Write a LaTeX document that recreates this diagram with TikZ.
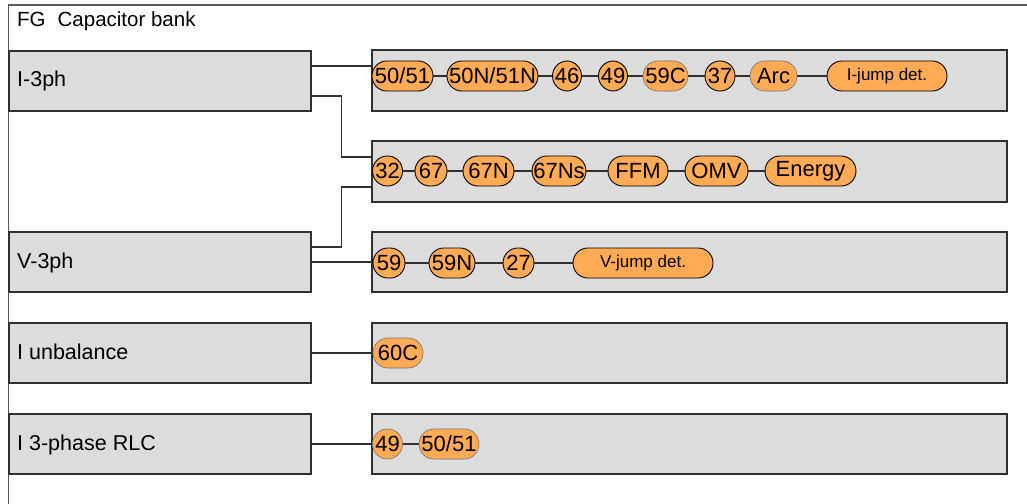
\documentclass[tikz,border=0pt]{standalone}
\usepackage{fontspec}
\setmainfont{Liberation Sans}
\definecolor{pillfill}{HTML}{FFAA55}
\definecolor{boxfill}{HTML}{DCDCDC}
\definecolor{boxline}{HTML}{303030}
\definecolor{greyline}{HTML}{707070}
\begin{document}
\begin{tikzpicture}[x=1pt,y=-1pt,
  groupbox/.style={draw=boxline,fill=boxfill,line width=1.4pt,inner sep=0pt},
  pill/.style={draw=black,fill=pillfill,line width=0.9pt,minimum height=30pt,rounded corners=14.9pt,inner sep=0pt,font=\fontsize{22}{24}\selectfont},
  gpill/.style={pill,draw=greyline,line width=0.6pt},
  smallpill/.style={pill,font=\fontsize{17}{19}\selectfont},
  conn/.style={draw=boxline,line width=1.1pt},
  lbl/.style={anchor=base west,inner sep=0pt,font=\fontsize{21.5}{24}\selectfont}]
\useasboundingbox (0,0) rectangle (1027,503);
% outer frame
\draw[draw=greyline!80!black,line width=1.5pt] (8.5,510) -- (8.5,5) -- (1035,5);
\node[lbl,font=\fontsize{20.5}{23}\selectfont] (title) at (17,27) {FG\hspace{12pt}Capacitor bank};
% left boxes
\node[groupbox,minimum width=302pt,minimum height=60pt] (L1) at (160,81) {};
\node[groupbox,minimum width=302pt,minimum height=60pt] (L2) at (160,262) {};
\node[groupbox,minimum width=302pt,minimum height=60pt] (L3) at (160,353) {};
\node[groupbox,minimum width=302pt,minimum height=60pt] (L4) at (160,444) {};
\node[lbl] (t1) at (17,86) {I-3ph};
\node[lbl] (t2) at (17,268) {V-3ph};
\node[lbl] (t3) at (17,359) {I unbalance};
\node[lbl] (t4) at (17,450) {I 3-phase RLC};
% right boxes
\node[groupbox,minimum width=635pt,minimum height=61pt] (R1) at (689.5,80.5) {};
\node[groupbox,minimum width=635pt,minimum height=61pt] (R2) at (689.5,171.5) {};
\node[groupbox,minimum width=635pt,minimum height=60pt] (R3) at (689.5,262) {};
\node[groupbox,minimum width=635pt,minimum height=60pt] (R4) at (689.5,353) {};
\node[groupbox,minimum width=635pt,minimum height=60pt] (R5) at (689.5,444) {};
% connectors from left boxes
\draw[conn] ([yshift=15pt]L1.east) -- ([yshift=15pt]L1.east -| R1.west);
\draw[conn] ([yshift=-15pt]L1.east) -- ++(30,0) |- ([yshift=14.5pt]R2.west);
\draw[conn] ([yshift=15pt]L2.east) -- ++(30,0) |- ([yshift=-15.5pt]R2.west);
\draw[conn] (L2.east) -- (L2.east -| R3.west);
\draw[conn] (L3.east) -- (L3.east -| R4.west);
\draw[conn] (L4.east) -- (L4.east -| R5.west);
% row 1
\node[pill,minimum width=61pt] (a1) at (402.5,76) {50/51};
\node[pill,minimum width=91pt] (a2) at (492.5,76) {50N/51N};
\node[pill,minimum width=29pt] (a3) at (567,76) {46};
\node[pill,minimum width=29pt] (a4) at (613,76) {49};
\node[gpill,minimum width=45pt] (a5) at (665.5,76) {59C};
\node[pill,minimum width=30pt] (a6) at (720,76) {37};
\node[gpill,minimum width=47pt] (a7) at (773.5,76) {Arc};
\node[smallpill,minimum width=120pt] (a8) at (887,76) {I-jump det.};
\foreach \i/\j in {a1/a2,a2/a3,a3/a4,a4/a5,a5/a6,a6/a7,a7/a8} \draw[conn] (\i) -- (\j);
% row 2
\node[pill,minimum width=30pt] (b1) at (387.5,171) {32};
\node[pill,minimum width=32pt] (b2) at (431,171) {67};
\node[pill,minimum width=51pt] (b3) at (488.5,171) {67N};
\node[pill,minimum width=54pt] (b4) at (559,171) {67Ns};
\node[pill,minimum width=60pt] (b5) at (638,171) {FFM};
\node[pill,minimum width=63pt] (b6) at (716.5,171) {OMV};
\node[pill,minimum width=91pt] (b7) at (810.5,171) {Energy};
\foreach \i/\j in {b1/b2,b2/b3,b3/b4,b4/b5,b5/b6,b6/b7} \draw[conn] (\i) -- (\j);
% row 3
\node[pill,minimum width=32pt] (c1) at (389,263) {59};
\node[pill,minimum width=46pt] (c2) at (452,263) {59N};
\node[pill,minimum width=31pt] (c3) at (518.5,263) {27};
\node[smallpill,minimum width=140pt] (c4) at (643,263) {V-jump det.};
\foreach \i/\j in {c1/c2,c2/c3,c3/c4} \draw[conn] (\i) -- (\j);
% row 4
\node[gpill,minimum width=50pt] (d1) at (398,353) {60C};
% row 5
\node[gpill,minimum width=30pt] (e1) at (387.5,444) {49};
\node[gpill,minimum width=60pt] (e2) at (449,444) {50/51};
\draw[conn] (e1) -- (e2);
\end{tikzpicture}
\end{document}
